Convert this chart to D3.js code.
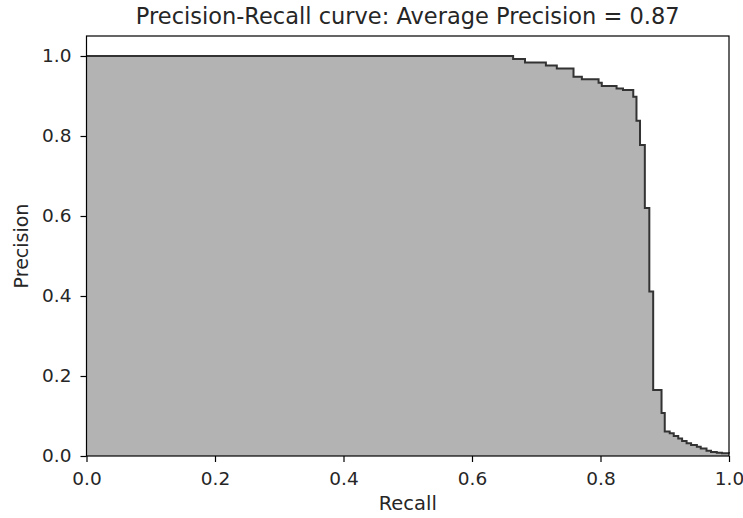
<!DOCTYPE html>
<html><head><meta charset="utf-8">
<script src="https://cdn.jsdelivr.net/npm/d3@7"></script>
<style>body{margin:0;background:#fff}svg{display:block}text{font-family:"DejaVu Sans",sans-serif;fill:#262626}</style>
</head><body>
<svg id="c" width="743" height="518"></svg>
<script>
const recall = [0, 0.664, 0.6825, 0.715, 0.732, 0.758, 0.771, 0.797, 0.802, 0.825, 0.835, 0.851, 0.856, 0.8615, 0.869, 0.876, 0.882, 0.895, 0.900, 0.9077, 0.914, 0.921, 0.927, 0.934, 0.941, 0.950, 0.956, 0.965, 0.972, 0.981, 0.989, 1.0];
const precision = [1.0, 0.9925, 0.984, 0.976, 0.969, 0.948, 0.942, 0.933, 0.925, 0.919, 0.915, 0.898, 0.838, 0.7775, 0.62, 0.411, 0.165, 0.1075, 0.061, 0.057, 0.05, 0.044, 0.0375, 0.032, 0.0275, 0.023, 0.019, 0.013, 0.010, 0.008, 0.007, 0.006];
const xTicks = [0, 0.2, 0.4, 0.6, 0.8, 1.0];
const yTicks = [0, 0.2, 0.4, 0.6, 0.8, 1.0];
const title = "Precision-Recall curve: Average Precision = 0.87";

const W = 743, H = 518, m = {l: 86.5, t: 36, r: 14, b: 62};
const svg = d3.select("#c");
const x = d3.scaleLinear().domain([0, 1]).range([m.l, W - m.r]);
const y = d3.scaleLinear().domain([0, 1.05]).range([H - m.b, m.t]);
const pts = recall.map((r, i) => [r, precision[i]]);

svg.append("path").datum(pts)
  .attr("d", d3.area().x(d => x(d[0])).y0(y(0)).y1(d => y(d[1])).curve(d3.curveStepAfter))
  .attr("fill", "#b3b3b3");
svg.append("path").datum(pts)
  .attr("d", d3.line().x(d => x(d[0])).y(d => y(d[1])).curve(d3.curveStepAfter))
  .attr("fill", "none").attr("stroke", "#333").attr("stroke-width", 2).attr("stroke-linejoin", "miter");

const fmt = d3.format(".1f");
const xa = svg.append("g").attr("transform", `translate(0,${H - m.b})`)
  .call(d3.axisBottom(x).tickValues(xTicks).tickFormat(fmt).tickSize(6).tickPadding(10));
const ya = svg.append("g").attr("transform", `translate(${m.l},0)`)
  .call(d3.axisLeft(y).tickValues(yTicks).tickFormat(fmt).tickSize(6).tickPadding(9));
[xa, ya].forEach(a => {
  a.selectAll("text").attr("font-size", 18.5).attr("font-family", "DejaVu Sans").attr("fill", "#262626");
  a.selectAll("line").attr("stroke", "#000").attr("stroke-width", 1.2);
  a.select(".domain").remove();
});
svg.append("rect").attr("x", m.l).attr("y", m.t).attr("width", W - m.r - m.l).attr("height", H - m.b - m.t)
  .attr("fill", "none").attr("stroke", "#000").attr("stroke-width", 1.2);

svg.append("text").attr("x", (m.l + W - m.r) / 2).attr("y", 23.5).attr("text-anchor", "middle")
  .attr("font-size", 22.5).text(title);
svg.append("text").attr("x", (m.l + W - m.r) / 2).attr("y", 510).attr("text-anchor", "middle")
  .attr("font-size", 19.5).text("Recall");
svg.append("text").attr("transform", `translate(28,${(m.t + H - m.b) / 2}) rotate(-90)`).attr("text-anchor", "middle")
  .attr("font-size", 19).text("Precision");
</script>
</body></html>
